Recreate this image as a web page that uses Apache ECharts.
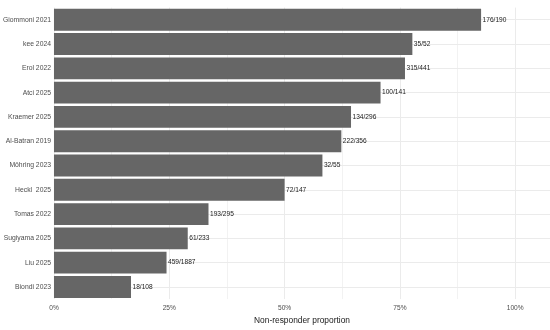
<!DOCTYPE html>
<html>
<head>
<meta charset="utf-8">
<script src="https://cdn.jsdelivr.net/npm/echarts@6/dist/echarts.min.js"></script>
<style>
html,body{margin:0;padding:0;background:#fff;}
#chart{width:550px;height:330px;}
</style>
</head>
<body>
<div id="chart"></div>
<script>
const studies = ["Giommoni 2021","kee 2024","Erol 2022","Atci 2025","Kraemer 2025","Al-Batran 2019","Möhring 2023","Heckl  2025","Tomas 2022","Sugiyama 2025","Liu 2025","Biondi 2023"];
const proportions = [0.926,0.777,0.761,0.708,0.644,0.623,0.582,0.500,0.335,0.290,0.244,0.167];
const countLabels = ["176/190","35/52","315/441","100/141","134/296","222/356","32/55","72/147","193/295","61/233","459/1887","18/108"];
const xTickLabels = {0:"0%",0.25:"25%",0.5:"50%",0.75:"75%",1:"100%"};

const FONT = "Liberation Sans, Arial, Helvetica, sans-serif";
const chart = echarts.init(document.getElementById('chart'), null, {renderer:'canvas'});
chart.setOption({
  animation:false,
  backgroundColor:'#ffffff',
  grid:{left:52, top:7.6, width:499, height:296.8, containLabel:false},
  xAxis:{
    type:'value', min:0, max:1.0754, interval:0.125,
    axisLine:{show:false}, axisTick:{show:false},
    axisLabel:{
      color:'#4d4d4d', fontSize:6.6, fontFamily:FONT, margin:6,
      showMaxLabel:false, hideOverlap:false,
      formatter:function(v){ return xTickLabels.hasOwnProperty(v) ? xTickLabels[v] : ''; }
    },
    splitLine:{show:true, lineStyle:{color:['#ebebeb','#f2f2f2'], width:1}},
    name:'Non-responder proportion', nameLocation:'middle', nameGap:14,
    nameTextStyle:{color:'#1a1a1a', fontSize:8.4, fontFamily:FONT}
  },
  yAxis:{
    type:'category', data:studies, inverse:true,
    axisLine:{show:false}, axisTick:{show:false},
    axisLabel:{color:'#4d4d4d', fontSize:6.8, fontFamily:FONT, margin:3},
    splitLine:{show:false}
  },
  series:[
    {
      type:'line', data:[], z:0, silent:true,
      markLine:{
        z:0, silent:true, symbol:'none', animation:false,
        label:{show:false},
        lineStyle:{color:'#ebebeb', width:1, type:'solid'},
        data: studies.map(s => ({yAxis:s}))
      }
    },
    {
      type:'bar', data:proportions, z:10,
      barCategoryGap:'10%',
      itemStyle:{color:'#666666'},
      label:{
        show:true, position:'right', distance:1.5,
        color:'#1a1a1a', fontSize:6.6, fontFamily:FONT,
        formatter:function(p){ return countLabels[p.dataIndex]; }
      }
    }
  ]
});
</script>
</body>
</html>
